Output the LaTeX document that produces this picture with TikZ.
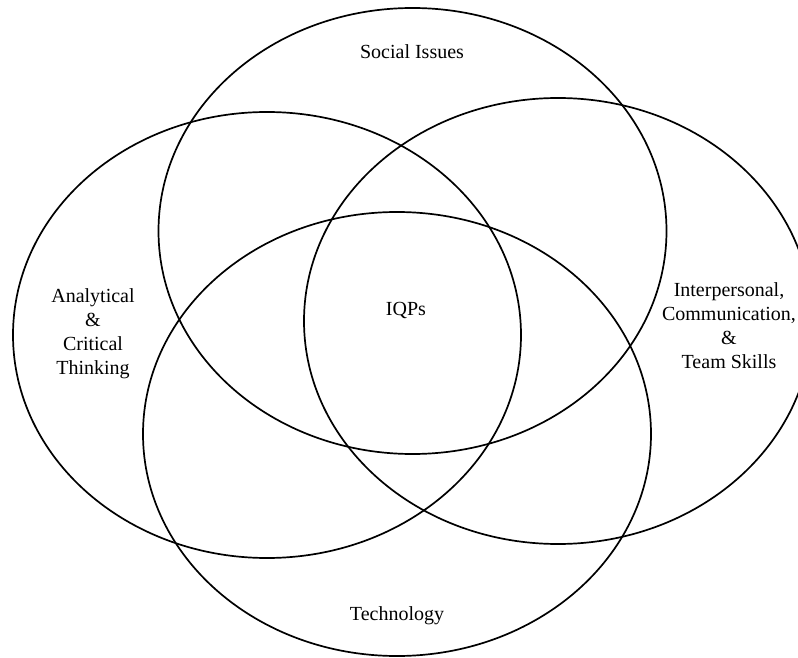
\documentclass[tikz,border=0pt]{standalone}
\usepackage{fontspec}
\setmainfont{Liberation Serif}
\begin{document}
\begin{tikzpicture}[x=1pt,y=-1pt,
  venn/.style={draw=black,line width=1.7pt},
  lbl/.style={font=\fontsize{20}{24}\selectfont,align=center,inner sep=0pt}]
\useasboundingbox (0,0) rectangle (798,658);
\clip (0,0) rectangle (798,658);
% ellipses
\draw[venn] (412.5,231) ellipse [x radius=254,y radius=223];
\draw[venn] (267,335) ellipse [x radius=254,y radius=223];
\draw[venn] (558,321) ellipse [x radius=254,y radius=223];
\draw[venn] (397,434) ellipse [x radius=254,y radius=222];
% labels
\node[lbl] (soc) at (412,52) {Social Issues};
\node[lbl] (iqp) at (406,310) {IQPs};
\node[lbl] (ana) at (93,334) {Analytical\\\&\\Critical\\Thinking};
\node[lbl] (inter) at (729,326) {Interpersonal,\\Communication,\\\&\\Team Skills};
\node[lbl] (tech) at (397,616) {Technology};
\end{tikzpicture}
\end{document}
